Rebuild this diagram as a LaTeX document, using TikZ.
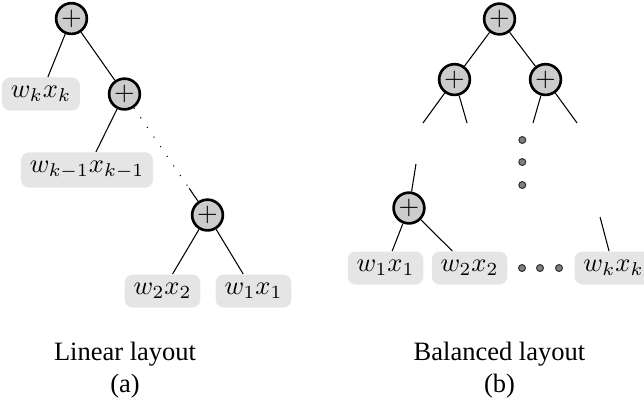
\documentclass[tikz,border=0pt]{standalone}
\usepackage[no-math]{fontspec}
\setmainfont{Liberation Serif}
\usetikzlibrary{calc}

\tikzset{
    adder/.style={circle, draw, line width=1pt, fill=gray!40, inner sep=0pt, minimum size=11.6pt},
    term/.style={fill=gray!20, rounded corners=3pt, inner sep=3.33pt},
    ellip/.style={circle, draw=black!80, fill=gray, inner sep=0pt, minimum size=2.6pt}
}

\begin{document}
\begin{tikzpicture}

        \useasboundingbox (0,0) rectangle (8.541,5.345);

        % Linear layout
        \node[adder] (rootL) at (0.948,5.099) {$+$};
        \node[term]  (wkL)   at (0.544,4.098) {$w_kx_k$};
        \node[adder] (addL2) at (1.651,4.098) {$+$};
        \node[term]  (wk1L)  at (1.154,3.090) {$w_{k-1}x_{k-1}$};
        \node[adder] (addL3) at (2.752,2.493) {$+$};
        \node[term]  (w2L)   at (2.155,1.485) {$w_2x_2$};
        \node[term]  (w1L)   at (3.362,1.485) {$w_1x_1$};

        \coordinate (brkL) at ($(addL2)!0.78!(addL3)$);

        \draw (rootL) -- (wkL);
        \draw (rootL) -- (addL2);
        \draw (addL2) -- (wk1L);
        \draw[loosely dotted] (addL2) -- (brkL);
        \draw (brkL) -- (addL3);
        \draw (addL3) -- (w2L);
        \draw (addL3) -- (w1L);

        \node[anchor=base] (capL) at (1.658,0.570) {Linear layout};
        \node[anchor=base] (subL) at (1.658,0.146) {(a)};

        % Balanced layout
        \node[adder] (rootR) at (6.625,5.093) {$+$};
        \node[adder] (addRa) at (6.028,4.290) {$+$};
        \node[adder] (addRb) at (7.235,4.290) {$+$};
        \node[adder] (addRc) at (5.424,2.586) {$+$};
        \node[term]  (w1R)   at (5.113,1.790) {$w_1x_1$};
        \node[term]  (w2R)   at (6.227,1.790) {$w_2x_2$};
        \node[term]  (wkR)   at (8.137,1.790) {$w_kx_k$};

        \coordinate (endA) at (5.610,3.714);
        \coordinate (endB) at (6.194,3.714);
        \coordinate (endC) at (7.069,3.714);
        \coordinate (endD) at (7.653,3.714);
        \coordinate (topC) at (5.517,3.170);
        \coordinate (topK) at (7.958,2.467);

        \draw (rootR) -- (addRa);
        \draw (rootR) -- (addRb);
        \draw (addRa) -- (endA);
        \draw (addRa) -- (endB);
        \draw (addRb) -- (endC);
        \draw (addRb) -- (endD);
        \draw (topC) -- (addRc);
        \draw (addRc) -- (w1R);
        \draw (addRc) -- (w2R);
        \draw (topK) -- (wkR);

        \foreach \y [count=\i] in {3.488,3.196,2.891}
            {
                % vertical dots
                \node[ellip] (vd\i) at (6.927,\y) {};
            }
        \foreach \x [count=\i] in {6.923,7.162,7.414}
            {
                % horizontal dots
                \node[ellip] (hd\i) at (\x,1.790) {};
            }

        \node[anchor=base] (capR) at (6.624,0.570) {Balanced layout};
        \node[anchor=base] (subR) at (6.624,0.146) {(b)};

    \end{tikzpicture}
\end{document}
